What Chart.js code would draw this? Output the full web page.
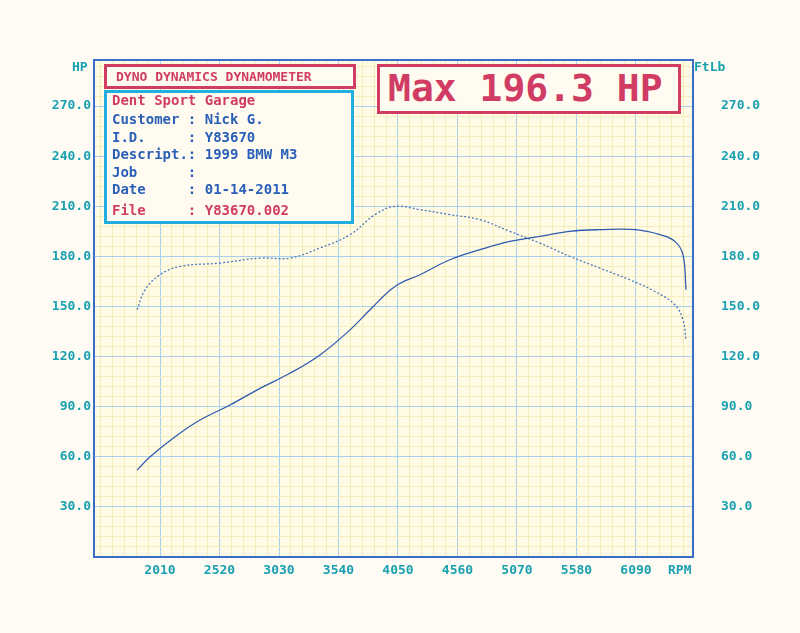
<!DOCTYPE html>
<html><head><meta charset="utf-8">
<script src="https://cdn.jsdelivr.net/npm/chart.js@4/dist/chart.umd.min.js"></script>
<style>
body{margin:0;background:#fdfbf3;font-family:"DejaVu Sans Mono",monospace}
#wrap{position:relative;width:800px;height:633px}
.box{position:absolute;box-sizing:border-box;background:#fffbf0}
.t{position:absolute;white-space:pre;font-size:14px;font-weight:bold;line-height:17.6px}
</style></head><body>
<div id="wrap">
<canvas id="myChart" width="800" height="633"></canvas>
<div class="box" style="left:104px;top:64px;width:252px;height:25px;border:3px solid #d03c64"></div>
<div class="t" style="left:116px;top:68px;color:#d03c64;font-size:13px">DYNO DYNAMICS DYNAMOMETER</div>
<div class="box" style="left:104px;top:90px;width:250px;height:134px;border:3px solid #22aee0"></div>
<div class="t" style="left:112px;top:92px;color:#d03c64">Dent Sport Garage</div>
<div class="t" style="left:112px;top:111px;color:#2a5fb8">Customer : Nick G.
I.D.     : Y83670
Descript.: 1999 BMW M3
Job      :
Date     : 01-14-2011</div>
<div class="t" style="left:112px;top:202px;color:#d03c64">File     : Y83670.002</div>
<div class="box" style="left:377px;top:64px;width:304px;height:50px;border:3px solid #d03c64"></div>
<div class="t" style="left:388px;top:68px;color:#d03c64;font-size:38px;line-height:40px">Max 196.3 HP</div>
<div class="t" style="left:72px;top:58px;color:#1aa0b0;font-size:13px">HP</div>
<div class="t" style="left:694px;top:58px;color:#1aa0b0;font-size:13px">FtLb</div>
<div class="t" style="left:668px;top:561px;color:#1aa0b0;font-size:13px">RPM</div>
</div>
<script>
var rpmTicks = [2010, 2520, 3030, 3540, 4050, 4560, 5070, 5580, 6090];
var valueTicks = [30, 60, 90, 120, 150, 180, 210, 240, 270];

var hpRpm = [1813, 1925, 2139, 2353, 2610, 2867, 3124, 3381, 3639, 3810, 4024, 4238, 4495, 4752, 5009, 5266, 5523, 5780, 6090, 6296, 6424, 6493, 6519];
var hpValues = [52, 60, 72, 82, 91, 101, 110, 121, 136, 148, 162, 169, 178, 184, 189, 192, 195, 196, 196, 193, 189, 181, 160];

var tqRpm = [1813, 1882, 2010, 2181, 2524, 2867, 3124, 3381, 3639, 3853, 4024, 4238, 4495, 4752, 5009, 5266, 5523, 5780, 6037, 6253, 6424, 6493, 6519];
var tqValues = [148, 160, 169, 174, 176, 179, 179, 185, 193, 205, 210, 208, 205, 202, 195, 188, 180, 173, 166, 159, 151, 142, 130];

function pts(xs, ys) { return xs.map(function (x, i) { return {x: x, y: ys[i]}; }); }

var tickFont = {family: '"DejaVu Sans Mono"', size: 13, weight: 'bold'};
var teal = '#1aa0b0';

var paper = {
  id: 'paper',
  beforeDraw: function (chart) {
    var a = chart.chartArea, c = chart.ctx;
    c.save(); c.fillStyle = '#fffbe4'; c.fillRect(a.left, a.top, a.right - a.left, a.bottom - a.top); c.restore();
  },
  afterDraw: function (chart) {
    var a = chart.chartArea, c = chart.ctx;
    c.save(); c.strokeStyle = '#3a6cc8'; c.lineWidth = 2;
    c.strokeRect(a.left, a.top, a.right - a.left, a.bottom - a.top); c.restore();
  }
};

function minorTicks(scale, base, step, min, max) {
  var t = [];
  for (var v = base; v >= min; v -= step) t.unshift({value: v});
  for (v = base + step; v <= max; v += step) t.push({value: v});
  scale.ticks = t;
}

var ctx = document.getElementById('myChart').getContext('2d');
var myChart = new Chart(ctx, {
  type: 'line',
  data: {
    datasets: [{
      data: pts(hpRpm, hpValues),
      borderColor: '#2f5cb0', borderWidth: 1.3, pointRadius: 0, tension: 0.4
    }, {
      data: pts(tqRpm, tqValues),
      borderColor: '#4a78c0', borderWidth: 1.3, borderDash: [2, 2], pointRadius: 0, tension: 0.4
    }]
  },
  plugins: [paper],
  options: {
    responsive: false, animation: false,
    layout: {padding: {top: 60}},
    plugins: {legend: {display: false}, tooltip: {enabled: false}},
    scales: {
      x: {
        type: 'linear', min: 1444, max: 6579,
        afterBuildTicks: function (s) { minorTicks(s, 2010, 102, 1444, 6579); },
        afterFit: function (s) { s.height = 76; },
        grid: {drawTicks: false, color: function (c) { return rpmTicks.indexOf(c.tick.value) >= 0 ? '#a8d0ec' : '#f5ecbc'; }},
        border: {display: false},
        ticks: {autoSkip: false, maxRotation: 0, padding: 6, color: teal, font: tickFont,
          callback: function (v) { return rpmTicks.indexOf(v) >= 0 ? String(v) : ''; }}
      },
      y: {
        type: 'linear', position: 'left', min: 0, max: 297.6,
        afterBuildTicks: function (s) { minorTicks(s, 0, 6, 0, 297.6); },
        afterFit: function (s) { s.width = 94; },
        grid: {drawTicks: false, color: function (c) { return c.tick.value % 30 === 0 ? '#a8d0ec' : '#f5ecbc'; }},
        border: {display: false},
        ticks: {autoSkip: false, padding: 3, color: teal, font: tickFont,
          callback: function (v) { return valueTicks.indexOf(v) >= 0 ? v.toFixed(1) : ''; }}
      },
      y2: {
        type: 'linear', position: 'right', min: 0, max: 297.6,
        afterBuildTicks: function (s) { s.ticks = valueTicks.map(function (v) { return {value: v}; }); },
        afterFit: function (s) { s.width = 107; },
        grid: {display: false}, border: {display: false},
        ticks: {padding: 20, color: teal, font: tickFont,
          callback: function (v) { return v.toFixed(1); }}
      }
    }
  }
});
</script>
</body></html>
